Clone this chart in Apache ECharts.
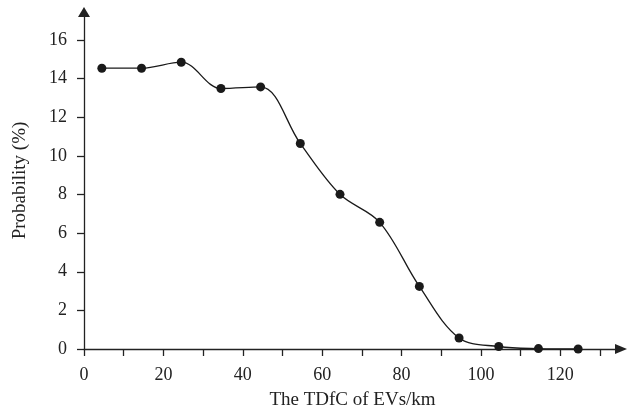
<!DOCTYPE html>
<html>
<head>
<meta charset="utf-8">
<script src="https://cdn.jsdelivr.net/npm/echarts@6/dist/echarts.min.js"></script>
<style>
  html, body { margin: 0; padding: 0; background: #fff; }
  #chart { width: 638px; height: 417px; }
</style>
</head>
<body>
<div id="chart"></div>
<script>
// data
var distances = [4.5, 14.5, 24.5, 34.5, 44.5, 54.5, 64.5, 74.5, 84.5, 94.5, 104.5, 114.5, 124.5];
var probability = [14.54, 14.54, 14.85, 13.49, 13.57, 10.64, 8.01, 6.56, 3.24, 0.57, 0.13, 0.02, 0.0];
var xTicks = [0, 10, 20, 30, 40, 50, 60, 70, 80, 90, 100, 110, 120, 130];
var xLabels = [0, 20, 40, 60, 80, 100, 120];
var yTicks = [0, 2, 4, 6, 8, 10, 12, 14, 16];

var font = '"Liberation Serif", "DejaVu Serif", serif';
var axisColor = '#222';

var myChart = echarts.init(document.getElementById('chart'));
myChart.setOption({
    animation: false,
    grid: { left: 84, right: 17, top: 12, bottom: 68 },
    xAxis: {
        type: 'value',
        min: 0,
        max: 135.3,
        name: 'The TDfC of EVs/km',
        nameLocation: 'middle',
        nameGap: 42,
        nameTextStyle: { fontFamily: font, fontSize: 19, color: '#222' },
        axisLine: {
            onZero: false,
            symbol: ['none', 'triangle'],
            symbolSize: [10, 12],
            lineStyle: { color: axisColor, width: 1.3 }
        },
        axisTick: { show: true, length: 7, customValues: xTicks, lineStyle: { color: axisColor, width: 1.3 } },
        axisLabel: { customValues: xLabels, margin: 17, fontFamily: font, fontSize: 18, color: '#222' },
        splitLine: { show: false }
    },
    yAxis: {
        type: 'value',
        min: 0,
        max: 17.45,
        name: 'Probability (%)',
        nameLocation: 'middle',
        nameGap: 54,
        nameTextStyle: { fontFamily: font, fontSize: 19, color: '#222' },
        axisLine: {
            show: true,
            onZero: false,
            symbol: ['none', 'triangle'],
            symbolSize: [12, 10],
            lineStyle: { color: axisColor, width: 1.3 }
        },
        axisTick: { show: true, length: 7, customValues: yTicks, lineStyle: { color: axisColor, width: 1.3 } },
        axisLabel: { customValues: yTicks, margin: 17, fontFamily: font, fontSize: 18, color: '#222' },
        splitLine: { show: false }
    },
    series: [{
        type: 'line',
        smooth: 0.35,
        data: distances.map(function (d, i) { return [d, probability[i]]; }),
        symbol: 'circle',
        symbolSize: 9,
        lineStyle: { color: '#1a1a1a', width: 1.3 },
        itemStyle: { color: '#1a1a1a' }
    }]
});
</script>
</body>
</html>
